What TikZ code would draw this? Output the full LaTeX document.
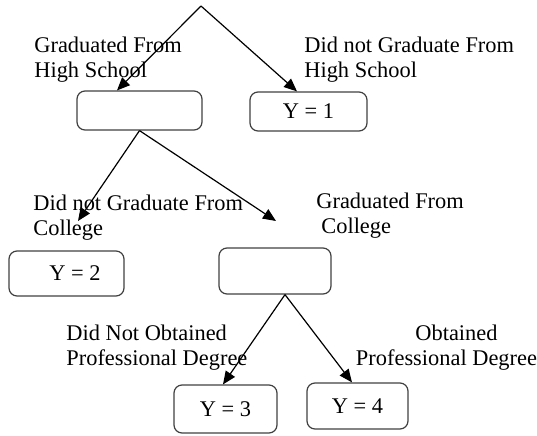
\documentclass[tikz,border=0pt]{standalone}
\usepackage{fontspec}
\setmainfont{Liberation Serif}
\usetikzlibrary{arrows.meta}

\begin{document}
\begin{tikzpicture}[x=0.5pt, y=-0.5pt,
		every node/.style={font=\fontsize{11.2}{12.5}\selectfont},
		box/.style={rectangle, rounded corners=4pt, draw=black!75, line width=0.6pt, inner sep=0pt},
		lbl/.style={anchor=north west, inner sep=0pt, align=left},
		arr/.style={line width=0.6pt, -{Triangle[length=6.5pt, width=5.5pt]}}]
		\useasboundingbox (0, 0) rectangle (537, 435);

		\coordinate (root) at (201, 6);
		\node[box, minimum width=62.5pt, minimum height=19.5pt] (hs) at (139.5, 110.5) {};
		\node[box, minimum width=58.5pt, minimum height=19.5pt] (y1) at (308.5, 111.5) {Y = 1};
		\node[box, minimum width=57.5pt, minimum height=22.5pt] (y2) at (66.5, 273.5) {\hspace*{8.5pt}Y = 2};
		\node[box, minimum width=56pt, minimum height=23pt] (col) at (275, 271) {};
		\node[box, minimum width=51.5pt, minimum height=24pt] (y3) at (225.5, 409) {Y = 3};
		\node[box, minimum width=50.5pt, minimum height=23pt] (y4) at (357.5, 406) {Y = 4};
		\coordinate (nocol) at (78, 221);
		\coordinate (gradcol) at (276, 221);

		\node[lbl] (hsyes) at (34, 36.5) {Graduated From\\High School};
		\node[lbl] (hsno) at (304, 36.5) {Did not Graduate From\\High School};
		\node[lbl] (colno) at (33, 194.5) {Did not Graduate From\\College};
		\node[lbl] (colyes) at (316, 192.5) {Graduated From\\\hspace*{2.5pt}College};
		\node[lbl] (degno) at (66, 324.5) {Did Not Obtained\\Professional Degree};
		\node[anchor=north, inner sep=0pt, align=center] (degyes) at (446.5, 324.5) {\hspace*{10pt}Obtained\\Professional Degree};

		\draw[arr] (root) -- ([xshift=-11.25pt]hs.north);
		\draw[arr] (root) -- ([xshift=-5.75pt]y1.north);
		\draw[arr] (hs.south) -- (nocol);
		\draw[arr] (hs.south) -- (gradcol);
		\draw[arr] ([xshift=5pt]col.south) -- ([xshift=-1.25pt]y3.north);
		\draw[arr] ([xshift=5pt]col.south) -- ([xshift=-2.75pt]y4.north);
	\end{tikzpicture}
\end{document}
